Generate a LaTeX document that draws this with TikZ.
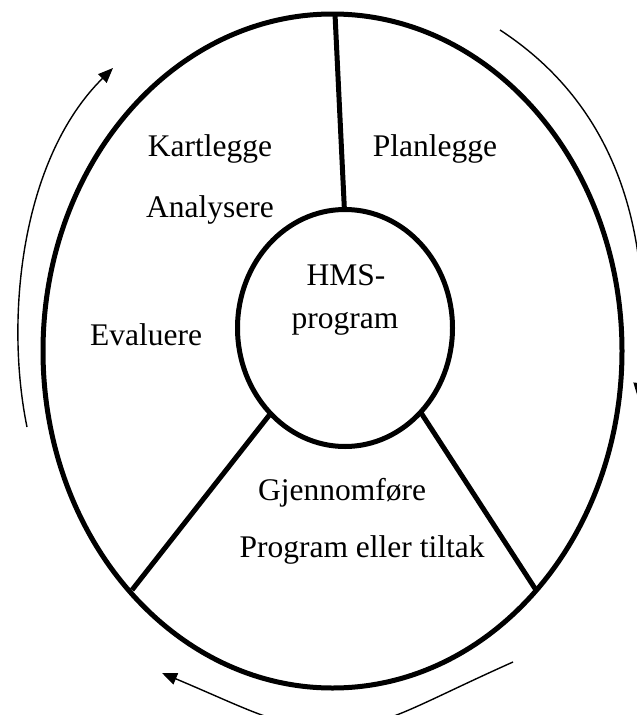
\documentclass[tikz,border=0pt]{standalone}
\usepackage{fontspec}
\setmainfont{Liberation Serif}
\usetikzlibrary{shapes.geometric,arrows.meta}
\begin{document}
\begin{tikzpicture}[x=1pt,y=-1pt,
  ring/.style={draw, ellipse, line width=5pt, outer sep=0pt, inner sep=0pt},
  spoke/.style={line width=5pt},
  flow/.style={line width=1.4pt, -{Triangle[length=15pt,width=12pt]}},
  lbl/.style={font=\fontsize{31.5}{38}\selectfont, inner sep=0pt, align=center}]
\clip (0,0) rectangle (637,715);
\fill[white] (0,0) rectangle (637,715);

% outer ring
\node[ring, minimum width=579pt, minimum height=674pt] (outer) at (332.5,351) {};

% spokes between the outer ring and the centre
\coordinate (otop) at (335,14);
\coordinate (itop) at (345,222);
\coordinate (oleft) at (132,590);
\coordinate (ileft) at (278,404);
\coordinate (oright) at (536,590);
\coordinate (iright) at (414,402);
\draw[spoke] (otop) -- (itop);
\draw[spoke] (oleft) -- (ileft);
\draw[spoke] (oright) -- (iright);

% centre
\node[ring, fill=white, minimum width=215pt, minimum height=237pt] (inner) at (345,328) {};
\node[lbl, anchor=base] (hms) at (346,285) {HMS-};
\node[lbl, anchor=base] (hmsprog) at (345,328) {program};

% sector labels
\node[lbl, anchor=base] (kart) at (210,156) {Kartlegge};
\node[lbl, anchor=base] (plan) at (435,156) {Planlegge};
\node[lbl, anchor=base] (anal) at (210,217) {Analysere};
\node[lbl, anchor=base] (eval) at (146,345) {Evaluere};
\node[lbl] (gjen) at (342,493) {Gjennomføre};
\node[lbl] (prog) at (362,550) {Program eller tiltak};

% circulation arrows
\coordinate (la) at (27,427);
\coordinate (lb) at (113,68);
\draw[flow] (la) .. controls (5,320) and (20,160) .. (lb);

\coordinate (ra) at (500,30);
\coordinate (rb) at (638,398);
\draw[flow] (ra) .. controls (615,105) and (655,230) .. (rb);

\coordinate (ba) at (513,662);
\coordinate (bm) at (330,728);
\coordinate (bb) at (162,673);
\draw[flow] (ba) .. controls (410,708) and (385,728) .. (bm)
            .. controls (280,728) and (250,710) .. (bb);
\end{tikzpicture}
\end{document}
